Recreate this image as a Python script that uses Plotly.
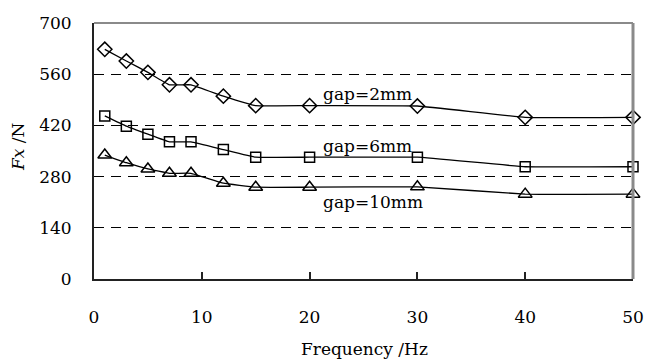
import plotly.graph_objects as go

freq = [1, 3, 5, 7, 9, 12, 15, 20, 30, 40, 50]
gap2 = [628, 596, 565, 531, 531, 500, 474, 474, 473, 442, 442]
gap6 = [446, 418, 396, 375, 375, 354, 333, 333, 333, 307, 307]
gap10 = [339, 318, 301, 289, 289, 262, 251, 251, 252, 232, 232]
series_names = ["gap=2mm", "gap=6mm", "gap=10mm"]
symbols = ["diamond-open", "square-open", "triangle-up-open"]
marker_sizes = [11, 10, 12]
y_ticks = [0, 140, 280, 420, 560, 700]
x_ticks = [0, 10, 20, 30, 40, 50]

FONT = "DejaVu Serif"

fig = go.Figure()
for name, ys, sym, ms in zip(series_names, [gap2, gap6, gap10], symbols, marker_sizes):
    fig.add_trace(go.Scatter(
        x=freq, y=ys, name=name, mode="lines+markers",
        line=dict(color="black", width=1.3, shape="spline", smoothing=0.25),
        marker=dict(symbol=sym, size=ms, color="black",
                    line=dict(width=1.5, color="black")),
        showlegend=False, cliponaxis=False,
    ))

# series labels
label_pos = [(21.1, 505), (21.1, 365), (21.1, 210)]
for name, (lx, ly) in zip(series_names, label_pos):
    fig.add_annotation(x=lx, y=ly, text=name, showarrow=False, xanchor="left",
                       yanchor="middle", font=dict(family=FONT, size=17, color="black"))

# axis titles
fig.add_annotation(xref="paper", yref="paper", x=(364 - 94) / 539, y=(279 - 349) / 256,
                   text="Frequency /Hz", showarrow=False, xanchor="center", yanchor="middle",
                   font=dict(family=FONT, size=17, color="black"))
fig.add_annotation(xref="paper", yref="paper", x=(18 - 94) / 539, y=(279 - 147) / 256,
                   text="<i>Fx</i> /N", showarrow=False, textangle=-90,
                   xanchor="center", yanchor="middle",
                   font=dict(family=FONT, size=17, color="black"))

# top and right gray frame
fig.add_shape(type="line", xref="paper", yref="paper", x0=0, x1=1, y0=1, y1=1,
              line=dict(color="#8a8a8a", width=2), layer="above")
fig.add_shape(type="line", xref="paper", yref="paper", x0=1, x1=1, y0=0, y1=1,
              line=dict(color="#8a8a8a", width=3), layer="above")

fig.update_xaxes(range=[0, 50], tickvals=x_ticks, ticks="inside", ticklen=7,
                 tickcolor="#222", tickwidth=1.5, showgrid=False, zeroline=False,
                 showline=True, linecolor="#222", linewidth=2,
                 ticklabelstandoff=22, automargin=False,
                 tickfont=dict(family=FONT, size=17, color="black"))
fig.update_yaxes(range=[0, 700], tickvals=y_ticks, ticks="", showgrid=True,
                 gridcolor="black", gridwidth=1, griddash="10px,7px",
                 zeroline=False, showline=True, linecolor="#222", linewidth=2,
                 ticklabelstandoff=17, automargin=False,
                 tickfont=dict(family=FONT, size=17, color="black"))

fig.update_layout(width=649, height=360, margin=dict(l=94, r=16, t=23, b=81),
                  plot_bgcolor="white", paper_bgcolor="white")

fig.write_html("out.html", config={"displayModeBar": False},
               post_script="document.body.style.margin='0';document.body.style.padding='0';")
